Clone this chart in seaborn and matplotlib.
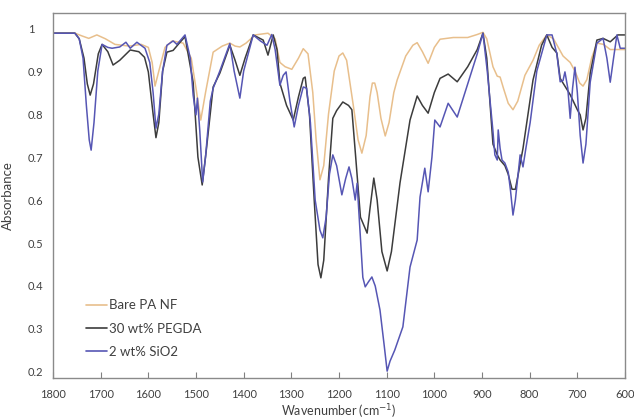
import numpy as np
import pandas as pd
import matplotlib
matplotlib.use("Agg")
import matplotlib.pyplot as plt
import seaborn as sns
from matplotlib.lines import Line2D

# ---------------- data ----------------
bare_wn = [1800, 1754, 1740, 1725, 1708, 1690, 1670, 1640, 1615, 1600, 1592, 1586, 1578, 1565, 1550, 1527,
           1510, 1500, 1490, 1480, 1464, 1445, 1429, 1418, 1408, 1395, 1376, 1349, 1334, 1324, 1313, 1299,
           1285, 1275, 1265, 1255, 1248, 1240, 1232, 1222, 1210, 1200, 1192, 1184, 1170, 1160, 1152, 1143,
           1135, 1130, 1125, 1120, 1112, 1103, 1095, 1085, 1078, 1060, 1045, 1036, 1025, 1013, 1000, 988,
           960, 930, 910, 898, 890, 877, 868, 862, 855, 845, 835, 825, 810, 793, 780, 764, 750, 740, 730,
           715, 705, 695, 688, 680, 670, 659, 645, 631, 615, 600]
bare_abs = [0.988, 0.988, 0.982, 0.976, 0.984, 0.975, 0.962, 0.958, 0.962, 0.955, 0.92, 0.865, 0.9, 0.955,
            0.97, 0.965, 0.93, 0.86, 0.786, 0.85, 0.944, 0.958, 0.965, 0.958, 0.956, 0.965, 0.984, 0.988,
            0.975, 0.92, 0.91, 0.904, 0.93, 0.952, 0.94, 0.85, 0.74, 0.647, 0.68, 0.8, 0.9, 0.935, 0.942,
            0.925, 0.82, 0.74, 0.709, 0.75, 0.84, 0.872, 0.872, 0.85, 0.79, 0.749, 0.78, 0.85, 0.879, 0.935,
            0.96, 0.966, 0.945, 0.918, 0.955, 0.974, 0.978, 0.978, 0.985, 0.99, 0.975, 0.91, 0.888, 0.886,
            0.86, 0.825, 0.81, 0.83, 0.89, 0.925, 0.96, 0.984, 0.975, 0.955, 0.935, 0.92, 0.9, 0.872, 0.865,
            0.88, 0.93, 0.965, 0.962, 0.95, 0.95, 0.95]

pegda_wn = [1800, 1754, 1745, 1735, 1728, 1722, 1715, 1705, 1697, 1685, 1674, 1660, 1638, 1620, 1608, 1600,
            1590, 1584, 1578, 1570, 1561, 1548, 1535, 1523, 1515, 1506, 1496, 1487, 1478, 1464, 1450, 1429,
            1418, 1408, 1397, 1380, 1359, 1349, 1338, 1330, 1324, 1310, 1296, 1285, 1275, 1271, 1262, 1252,
            1244, 1238, 1232, 1222, 1213, 1205, 1192, 1180, 1173, 1165, 1155, 1141, 1135, 1127, 1120, 1110,
            1099, 1090, 1072, 1051, 1036, 1025, 1013, 1000, 988, 971, 952, 930, 910, 898, 890, 877, 868, 862,
            852, 845, 837, 830, 824, 814, 793, 775, 764, 753, 743, 736, 730, 715, 700, 694, 688, 682, 673,
            659, 646, 631, 615, 600]
pegda_abs = [0.988, 0.988, 0.975, 0.93, 0.87, 0.844, 0.87, 0.94, 0.962, 0.945, 0.914, 0.925, 0.949, 0.945,
             0.932, 0.898, 0.8, 0.745, 0.78, 0.9, 0.944, 0.948, 0.965, 0.98, 0.93, 0.874, 0.7, 0.635, 0.72,
             0.863, 0.895, 0.96, 0.925, 0.89, 0.93, 0.984, 0.972, 0.937, 0.984, 0.95, 0.872, 0.82, 0.786,
             0.84, 0.883, 0.886, 0.8, 0.6, 0.45, 0.419, 0.46, 0.65, 0.79, 0.808, 0.828, 0.82, 0.81, 0.7,
             0.56, 0.523, 0.58, 0.651, 0.6, 0.48, 0.435, 0.48, 0.64, 0.786, 0.842, 0.82, 0.802, 0.85, 0.883,
             0.893, 0.875, 0.91, 0.95, 0.988, 0.93, 0.73, 0.705, 0.693, 0.68, 0.66, 0.625, 0.625, 0.66,
             0.72, 0.879, 0.96, 0.984, 0.955, 0.942, 0.883, 0.872, 0.845, 0.81, 0.798, 0.763, 0.79, 0.895,
             0.972, 0.976, 0.968, 0.984, 0.984]

sio2_wn = [1800, 1754, 1745, 1737, 1730, 1724, 1720, 1714, 1706, 1697, 1685, 1676, 1660, 1647, 1638, 1624,
           1607, 1597, 1590, 1584, 1578, 1570, 1561, 1548, 1540, 1523, 1512, 1506, 1500, 1497, 1492, 1486,
           1480, 1470, 1464, 1450, 1429, 1420, 1408, 1400, 1380, 1365, 1351, 1345, 1341, 1334, 1324, 1317,
           1311, 1303, 1294, 1285, 1275, 1268, 1260, 1250, 1240, 1234, 1227, 1220, 1213, 1205, 1194, 1186,
           1179, 1173, 1166, 1162, 1157, 1150, 1145, 1138, 1131, 1124, 1114, 1105, 1099, 1093, 1083, 1066,
           1051, 1036, 1030, 1020, 1013, 1005, 999, 988, 971, 952, 930, 910, 898, 889, 877, 873, 868, 866,
           862, 858, 852, 845, 840, 835, 830, 820, 814, 808, 799, 785, 764, 753, 743, 736, 730, 726, 720,
           715, 710, 705, 700, 694, 688, 682, 673, 659, 646, 638, 631, 624, 617, 610, 600]
sio2_abs = [0.988, 0.988, 0.975, 0.93, 0.82, 0.74, 0.716, 0.78, 0.9, 0.962, 0.955, 0.953, 0.956, 0.967,
            0.953, 0.967, 0.953, 0.92, 0.85, 0.767, 0.8, 0.9, 0.96, 0.97, 0.962, 0.984, 0.93, 0.844, 0.798,
            0.837, 0.76, 0.642, 0.7, 0.83, 0.86, 0.9, 0.964, 0.9, 0.837, 0.9, 0.984, 0.97, 0.96, 0.975,
            0.985, 0.95, 0.867, 0.89, 0.898, 0.83, 0.77, 0.82, 0.863, 0.86, 0.78, 0.6, 0.53, 0.512, 0.56,
            0.66, 0.705, 0.68, 0.612, 0.65, 0.677, 0.65, 0.6, 0.639, 0.55, 0.42, 0.398, 0.41, 0.421, 0.4,
            0.344, 0.26, 0.202, 0.225, 0.251, 0.305, 0.444, 0.507, 0.607, 0.674, 0.619, 0.7, 0.786, 0.77,
            0.825, 0.793, 0.87, 0.94, 0.988, 0.9, 0.76, 0.705, 0.693, 0.763, 0.72, 0.693, 0.686, 0.665,
            0.62, 0.565, 0.6, 0.705, 0.677, 0.72, 0.78, 0.9, 0.984, 0.984, 0.94, 0.875, 0.878, 0.898, 0.86,
            0.79, 0.86, 0.909, 0.85, 0.75, 0.686, 0.73, 0.874, 0.965, 0.976, 0.93, 0.874, 0.93, 0.984,
            0.953, 0.953]

labels = ["Bare PA NF", "30 wt% PEGDA", "2 wt% SiO2"]
colors = ["#E8BF8C", "#3C3C3C", "#5656B4"]
yticks = [0.2, 0.3, 0.4, 0.5, 0.6, 0.7, 0.8, 0.9, 1.0]
ytick_labels = ["0.2", "0.3", "0.4", "0.5", "0.6", "0.7", "0.8", "0.9", "1"]
xticks = [1800, 1700, 1600, 1500, 1400, 1300, 1200, 1100, 1000, 900, 800, 700, 600]

df = pd.concat([
    pd.DataFrame({"wn": bare_wn, "A": bare_abs, "s": labels[0]}),
    pd.DataFrame({"wn": pegda_wn, "A": pegda_abs, "s": labels[1]}),
    pd.DataFrame({"wn": sio2_wn, "A": sio2_abs, "s": labels[2]}),
], ignore_index=True)

# ---------------- plot ----------------
sns.set_theme(style="white")
plt.rcParams["font.family"] = ["Lato", "DejaVu Sans"]
txt = "#404040"

fig = plt.figure(figsize=(6.34, 4.20), dpi=100)
ax = fig.add_axes([53 / 634, 42 / 420, 572 / 634, 365 / 420])

sns.lineplot(data=df, x="wn", y="A", hue="s", hue_order=labels,
             palette=dict(zip(labels, colors)), estimator=None, sort=True,
             linewidth=1.1, legend=False, ax=ax)

ax.set_xlim(1800, 600)
ax.set_ylim(0.186, 1.035)
ax.set_xticks(xticks)
ax.set_xticklabels([str(t) for t in xticks], fontsize=8, color=txt)
ax.set_yticks(yticks)
ax.set_yticklabels(ytick_labels, fontsize=8, color=txt)
for lab in ax.get_yticklabels():
    lab.set_ha("left")
ax.tick_params(axis="y", length=0, pad=18)
ax.tick_params(axis="x", direction="in", length=4, width=0.8, color="#808080", pad=8, bottom=True)

for sp in ax.spines.values():
    sp.set_visible(True)
    sp.set_color("#8a8a8a")
    sp.set_linewidth(1.0)

ax.set_xlabel("Wavenumber (cm$^{-1}$)", fontsize=9, color=txt)
ax.xaxis.set_label_coords(0.5, -0.066)
ax.set_ylabel("Absorbance", fontsize=9.5, color=txt)
ax.yaxis.set_label_coords(-0.068, 0.5)

handles = [Line2D([0], [0], color=c, lw=1.2) for c in colors]
ax.legend(handles, labels, loc="lower left", bbox_to_anchor=(0.058, 0.055),
          frameon=False, fontsize=9.5, handlelength=1.6, handletextpad=0.15,
          labelspacing=0.85, borderpad=0, borderaxespad=0, labelcolor=txt)

fig.savefig("out.png", dpi=100)
